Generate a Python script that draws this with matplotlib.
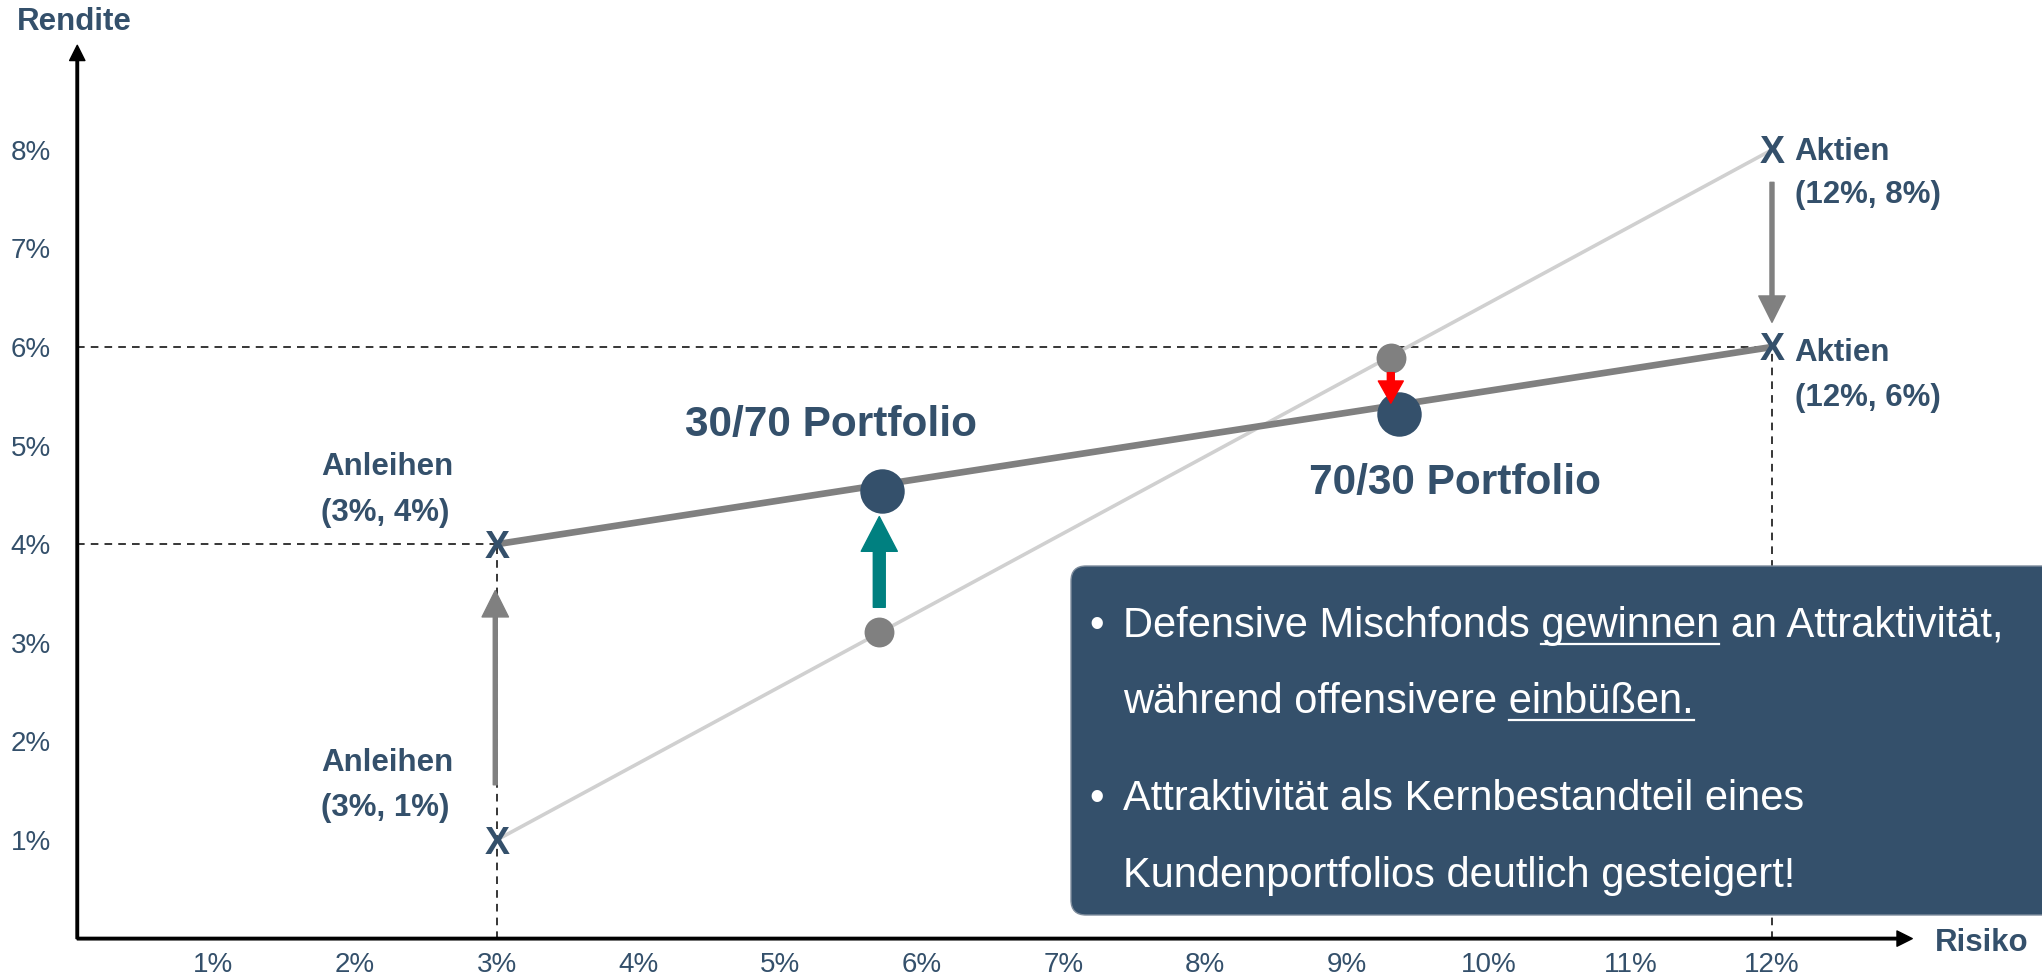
#Risiko/Rendite Diagramm: Anleihen vs. Aktien, alte und neue Linie
import matplotlib
import matplotlib.pyplot as plt
from matplotlib.patches import FancyBboxPatch

matplotlib.use('Agg')
plt.rcParams['font.family'] = ['Liberation Sans', 'DejaVu Sans']

navy = '#34506b'
teal = '#008080'

#data
x_ticks = list(range(1, 13))
y_ticks = list(range(1, 9))
x_labels = [f'{v}%' for v in x_ticks]
y_labels = [f'{v}%' for v in y_ticks]

old_line_x = [3, 12]
old_line_y = [1, 8]
new_line_x = [3, 12]
new_line_y = [4, 6]

asset_x = [3, 3, 12, 12]
asset_y = [1, 4, 8, 6]

pf_old_x = [5.70, 9.31]
pf_old_y = [3.11, 5.89]
pf_new_x = [5.72, 9.37]
pf_new_y = [4.54, 5.32]

#dashed helper lines (x0, y0, x1, y1)
guides = [(0, 6, 12, 6), (0, 4, 3, 4), (3, 0, 3, 4), (12, 0, 12, 6)]

#shift arrows (x, y_from, y_to)
gray_shifts = [(2.99, 1.56, 3.53), (12.0, 7.67, 6.25)]
teal_shift = (5.70, 3.36, 4.28)
red_shift = (9.31, 5.74, 5.43)

fig = plt.figure(figsize=(20.42, 9.77), dpi=100)
ax = fig.add_axes([0.03506, 0.0393, 0.9021, 0.9083])
ax.set_xlim(0, 13)
ax.set_ylim(0, 9)
for s in ax.spines.values():
    s.set_visible(False)

ax.set_xticks(x_ticks, x_labels)
ax.set_yticks(y_ticks, y_labels)
ax.tick_params(axis='both', length=0, labelsize=20, labelcolor=navy)
ax.tick_params(axis='x', pad=10)
ax.tick_params(axis='y', pad=15)

#axis arrows
ax0 = 0.04
axis_style = 'simple,head_length=11,head_width=11,tail_width=1.8'
ax.annotate('', xy=(ax0, 9.06), xytext=(ax0, 0), annotation_clip=False,
            arrowprops=dict(arrowstyle=axis_style, color='black', shrinkA=0, shrinkB=0, mutation_scale=1))
ax.annotate('', xy=(12.99, 0), xytext=(ax0, 0), annotation_clip=False,
            arrowprops=dict(arrowstyle=axis_style, color='black', shrinkA=0, shrinkB=0, mutation_scale=1))

for x0, y0, x1, y1 in guides:
    ax.plot([max(x0, ax0), x1], [y0, y1], color='black', lw=1.1, ls=(0, (5, 4)), zorder=1)

ax.plot(old_line_x, old_line_y, color='#d0d0d0', lw=2.6, zorder=2, solid_capstyle='butt')
ax.plot(new_line_x, new_line_y, color='#808080', lw=4.8, zorder=2, solid_capstyle='butt')

ax.plot(pf_old_x, pf_old_y, 'o', color='#808080', ms=21.5, mec='none', zorder=3)
ax.plot(pf_new_x, pf_new_y, 'o', color=navy, ms=32, mec='none', zorder=3)

#X markers as letters, centred on the point (cap height ~0.72 em)
for x, y in zip(asset_x, asset_y):
    ax.annotate('X', (x, y), xytext=(0, -0.36 * 27), textcoords='offset points',
                fontsize=27, fontweight='bold', color=navy, ha='center', va='baseline', zorder=5)

#arrows
for x, y0, y1 in gray_shifts:
    ax.annotate('', xy=(x, y1), xytext=(x, y0),
                arrowprops=dict(arrowstyle='simple,head_length=19,head_width=19,tail_width=2.9',
                                color='#808080', shrinkA=0, shrinkB=0, mutation_scale=1))
x, y0, y1 = teal_shift
ax.annotate('', xy=(x, y1), xytext=(x, y0),
            arrowprops=dict(arrowstyle='simple,head_length=25,head_width=26,tail_width=8.6',
                            color=teal, shrinkA=0, shrinkB=0, mutation_scale=1), zorder=4)
x, y0, y1 = red_shift
ax.annotate('', xy=(x, y1), xytext=(x, y0),
            arrowprops=dict(arrowstyle='simple,head_length=16,head_width=18,tail_width=5',
                            color='red', shrinkA=0, shrinkB=0, mutation_scale=1), zorder=4)

#labels
lab = dict(fontsize=22.5, fontweight='bold', color=navy, va='center', ha='left')
ax.text(1.76, 4.78, 'Anleihen', **lab)
ax.text(1.76, 4.32, '(3%, 4%)', **lab)
ax.text(1.76, 1.78, 'Anleihen', **lab)
ax.text(1.76, 1.32, '(3%, 1%)', **lab)
ax.text(12.16, 7.98, 'Aktien', **lab)
ax.text(12.16, 7.54, '(12%, 8%)', **lab)
ax.text(12.16, 5.94, 'Aktien', **lab)
ax.text(12.16, 5.48, '(12%, 6%)', **lab)
big = dict(lab, fontsize=30.5)
ax.text(4.33, 5.21, '30/70 Portfolio', **big)
ax.text(8.73, 4.62, '70/30 Portfolio', **big)

fig.text(0.17, 9.77 - 0.22, 'Rendite', transform=fig.dpi_scale_trans, **lab)
fig.text(19.35, 9.77 - 9.43, 'Risiko', transform=fig.dpi_scale_trans, **lab)

#info box
box = FancyBboxPatch((10.71, 0.62), 10.0, 3.49, boxstyle='round,pad=0,rounding_size=0.15',
                     transform=fig.dpi_scale_trans, facecolor=navy, edgecolor='#7d8c9c',
                     lw=1, zorder=5)
fig.add_artist(box)

bt = dict(fontsize=30, color='white', va='baseline', ha='left', transform=fig.dpi_scale_trans, zorder=6)
lines = [(3.40, True, 'Defensive Mischfonds gewinnen an Attraktivität,', 'gewinnen'),
         (2.64, False, 'während offensivere einbüßen.', 'einbüßen.'),
         (1.67, True, 'Attraktivität als Kernbestandteil eines', None),
         (0.90, False, 'Kundenportfolios deutlich gesteigert!', None)]
renderer = fig.canvas.get_renderer()


def text_w(s):
    t = fig.text(0, 0, s, **bt)
    w = t.get_window_extent(renderer).width / fig.dpi
    t.remove()
    return w


tx = 11.23
for y, bullet, s, ul in lines:
    if bullet:
        fig.text(10.97, y, '•', **dict(bt, ha='center'))
    fig.text(tx, y, s, **bt)
    if ul:
        pre = s[:s.index(ul) + len(ul)]
        x1 = tx + text_w(pre)
        x0 = x1 - text_w(ul)
        fig.add_artist(plt.Line2D([x0, x1], [y - 0.07, y - 0.07], color='white', lw=1.6,
                                  transform=fig.dpi_scale_trans, zorder=6))

fig.savefig('out.png', dpi=100)
